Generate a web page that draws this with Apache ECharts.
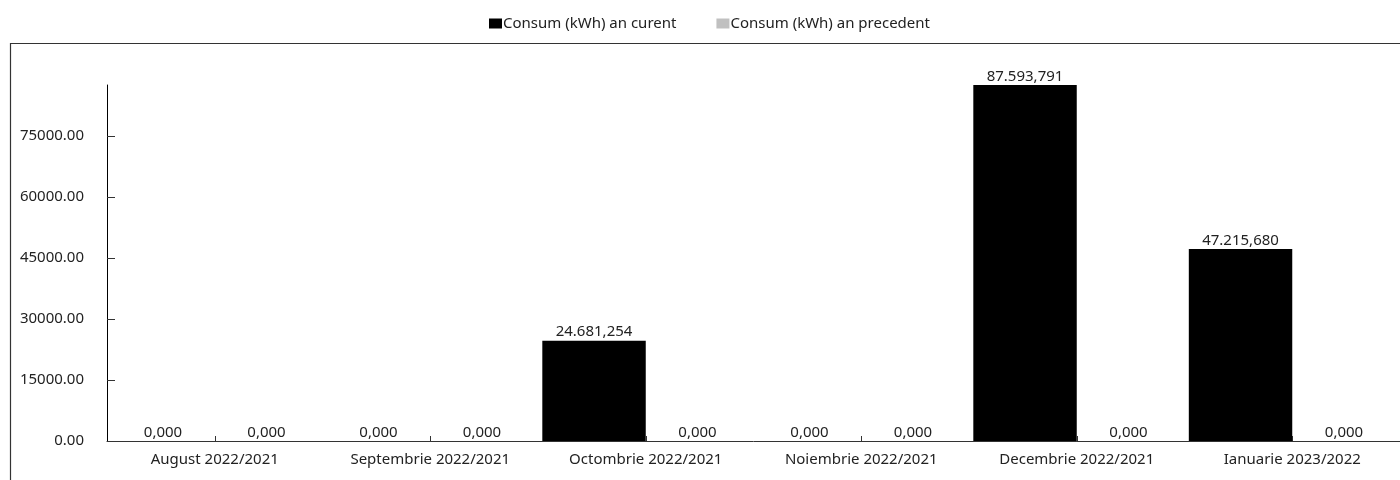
<!DOCTYPE html>
<html>
<head>
<meta charset="utf-8">
<script src="https://cdn.jsdelivr.net/npm/echarts@6/dist/echarts.min.js"></script>
<style>html,body{margin:0;padding:0;background:#fff;}#c{width:1400px;height:480px;}</style>
</head>
<body>
<div id="c"></div>
<script>
const categories = ['August 2022/2021','Septembrie 2022/2021','Octombrie 2022/2021','Noiembrie 2022/2021','Decembrie 2022/2021','Ianuarie 2023/2022'];
const currentYear = [0, 0, 24681.254, 0, 87593.791, 47215.680];
const previousYear = [0, 0, 0, 0, 0, 0];
const seriesNames = ['Consum (kWh) an curent', 'Consum (kWh) an precedent'];

function roFmt(v) {
  const s = Number(v).toFixed(3).split('.');
  const intPart = s[0].replace(/\B(?=(\d{3})+(?!\d))/g, '.');
  return intPart + ',' + s[1];
}
const FONT = 'Noto Sans';
const FS = 15;
const chart = echarts.init(document.getElementById('c'));
chart.setOption({
  animation: false,
  textStyle: { fontFamily: FONT },
  graphic: [{
    type: 'rect', silent: true,
    shape: { x: 10.5, y: 43.5, width: 1400, height: 460 },
    style: { fill: 'none', stroke: '#333', lineWidth: 1.2 }
  }],
  legend: {
    top: 11, left: 484,
    itemWidth: 13, itemHeight: 10, itemGap: 40,
    icon: 'rect',
    textStyle: { fontFamily: FONT, fontSize: FS, color: '#222', padding: [0, 0, 0, -4] },
    data: seriesNames
  },
  grid: { left: 107, top: 85, width: 1297, bottom: 39, containLabel: false },
  xAxis: {
    type: 'category', data: categories,
    axisLine: { lineStyle: { color: '#333', width: 1 } },
    axisTick: { show: true, alignWithLabel: true, inside: true, length: 5, lineStyle: { color: '#333' } },
    axisLabel: { fontFamily: FONT, fontSize: FS, color: '#222', margin: 11, interval: 0 }
  },
  yAxis: {
    type: 'value', min: 0, max: 'dataMax', interval: 15000,
    axisLine: { show: true, lineStyle: { color: '#000', width: 1 } },
    axisTick: { show: true, inside: true, length: 8, lineStyle: { color: '#333' } },
    splitLine: { show: false },
    axisLabel: { fontFamily: FONT, fontSize: FS, color: '#222', margin: 23, formatter: v => v.toFixed(2), showMaxLabel: false }
  },
  series: [
    {
      name: seriesNames[0], type: 'bar', data: currentYear,
      barGap: '0%', barCategoryGap: '4%',
      itemStyle: { color: '#000' },
      label: { show: true, position: 'top', distance: 1, fontFamily: FONT, fontSize: FS, color: '#222', formatter: p => roFmt(p.value) }
    },
    {
      name: seriesNames[1], type: 'bar', data: previousYear,
      barGap: '0%', barCategoryGap: '4%',
      itemStyle: { color: '#c0c0c0' },
      label: { show: true, position: 'top', distance: 1, fontFamily: FONT, fontSize: FS, color: '#222', formatter: p => roFmt(p.value) }
    }
  ]
});
</script>
</body>
</html>
